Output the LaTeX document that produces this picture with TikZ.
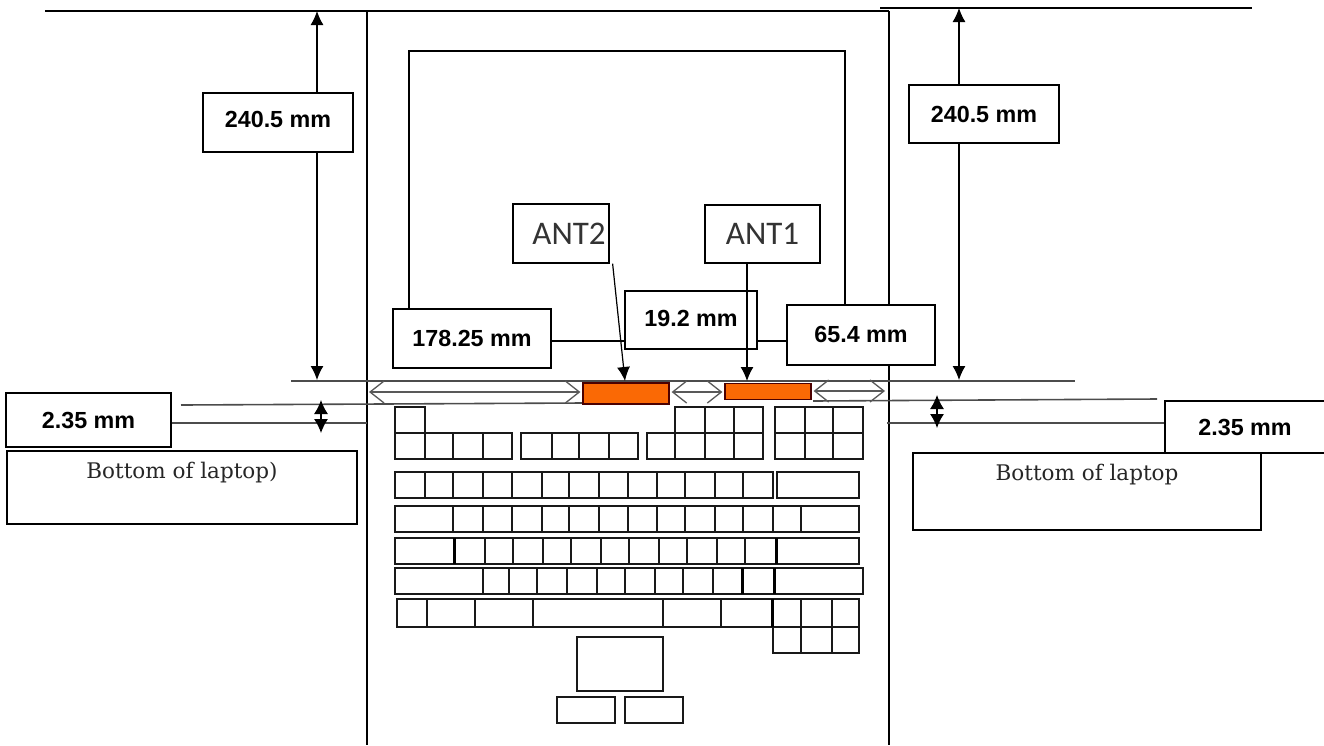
\documentclass[tikz,border=0pt]{standalone}
\usepackage{fontspec}
\usetikzlibrary{arrows.meta,positioning}
\newfontfamily\dimfont{Liberation Sans}
\newfontfamily\antfont{Carlito}
\newfontfamily\laptopfont{DejaVu Serif}
\definecolor{antorange}{RGB}{250,105,5}
\tikzset{
  dimbox/.style={draw=black, fill=white, line width=1.2pt, inner sep=0pt, font=\dimfont\bfseries\fontsize{23.3}{25}\selectfont},
  antbox/.style={draw=black, fill=white, line width=1.2pt, inner sep=0pt, text=black!80, font=\antfont\fontsize{33}{36}\selectfont},
  laptopbox/.style={draw=black, fill=white, line width=1.2pt, inner sep=0pt},
  laptoptext/.style={inner sep=0pt, text=black!85, font=\laptopfont\fontsize{21.5}{24}\selectfont},
  antpatch/.style={draw=black!70!red, fill=antorange, line width=1.2pt, inner sep=0pt},
  key/.style={draw=black!90, line width=1.4pt},
  thickkey/.style={draw=black, line width=3pt},
  frameline/.style={draw=black, line width=1.3pt},
  dimline/.style={draw=black!70, line width=1.6pt},
  gaparrow/.style={draw=black!65, line width=1.3pt, shorten <=2pt, shorten >=2pt, {Straight Barb[length=14pt,width=22pt]}-{Straight Barb[length=14pt,width=22pt]}},
  dimarrow/.style={draw=black, line width=1.2pt, -{Latex[length=14pt,width=13pt]}},
  tinyarrow/.style={draw=black, line width=1.2pt, {Latex[length=14pt,width=14pt]}-{Latex[length=14pt,width=14pt]}}
}
\newcommand\keyrow[5]{
  \draw[key] (#3,#1) rectangle (#4,#2);
  \foreach \dx in {#5} \draw[key] (\dx,#1) -- (\dx,#2);
}
\begin{document}
\begin{tikzpicture}[x=1pt,y=-1pt]
  \useasboundingbox (0,0) rectangle (1324,745);

  \draw[frameline] (45,11) -- (889,11);
  \draw[frameline] (880,8) -- (1252,8);
  \draw[frameline] (367,11) -- (367,745);
  \draw[frameline] (889,11) -- (889,745);
  \draw[frameline] (409,310) -- (409,51) -- (845,51) -- (845,306);

  \coordinate (topl) at (317,11);
  \coordinate (topr) at (959,8);
  \coordinate (basel) at (317,380);
  \coordinate (baser) at (959,380);
  \coordinate (lowl) at (367,423);
  \coordinate (lowr) at (887,423);
  \coordinate (sideline) at (0,341);
  \coordinate (antleft) at (625,381);
  \coordinate (antright) at (747,381);

  \draw[dimline] (291,381) -- (1075,381);
  \draw[dimline] (181,405) -- (583,403);
  \draw[dimline] (813,401) -- (1157,399);

  \keyrow{407}{433}{395}{425}{}
  \keyrow{433}{459}{395}{512}{425,453,483}
  \keyrow{433}{459}{521}{638}{552,579,609}
  \keyrow{433}{459}{647}{763}{675,705,734}
  \keyrow{407}{433}{675}{763}{705,734}
  \keyrow{407}{459}{775}{863}{805,833}
  \draw[key] (775,433) -- (863,433);
  \keyrow{472}{498}{395}{773}{425,453,483,512,542,569,599,628,657,685,715,743}
  \keyrow{472}{498}{777}{859}{}
  \keyrow{506}{532}{395}{859}{453,483,512,542,569,599,628,657,685,715,743,773,801}
  \keyrow{538}{564}{395}{859}{485,513,543,571,601,629,659,687,717,745}
  \keyrow{568}{594}{395}{863}{483,509,537,567,597,625,655,683,713}
  \keyrow{599}{627}{397}{859}{427,475,533,663,721,801,832}
  \keyrow{627}{653}{773}{859}{801,832}
  \foreach \tx/\ta/\tb in {454/538/564,776/538/564,742/568/594,774/568/594,772/599/627}
    \draw[thickkey] (\tx,\ta) -- (\tx,\tb);
  \draw[key] (577,637) rectangle (663,691);
  \draw[key] (557,697) rectangle (615,723);
  \draw[key] (625,697) rectangle (683,723);

  \node[antpatch, minimum width=86pt, minimum height=21pt] (orangel) at (626,393.5) {};
  \node[antpatch, minimum width=86pt, minimum height=16pt] (oranger) at (768,391.5) {};
  \coordinate (edgel) at (367,392);
  \coordinate (edger) at (887,391);
  \draw[gaparrow] (edgel) -- (orangel.west |- edgel);
  \draw[gaparrow] (orangel.east |- edgel) -- (oranger.west |- edgel);
  \draw[gaparrow] (oranger.east |- edger) -- (edger);

  \node[dimbox, minimum width=150pt, minimum height=59pt] (heightl) at (278,122.5) {\raisebox{6pt}{240.5 mm}};
  \node[dimbox, minimum width=150pt, minimum height=58pt] (heightr) at (984,114) {240.5 mm};
  \node[antbox, minimum width=96pt, minimum height=59pt] (ant2) at (561,233.5) {\hspace*{16pt}ANT2};
  \node[antbox, minimum width=115pt, minimum height=58pt] (ant1) at (762.5,234) {ANT1};
  \node[dimbox, minimum width=158pt, minimum height=59pt] (lenl) at (472,338.5) {178.25 mm};
  \node[dimbox, minimum width=132pt, minimum height=58pt] (lenm) at (691,320) {\raisebox{3pt}{19.2 mm}};
  \node[dimbox, minimum width=148pt, minimum height=60pt] (lenr) at (861,335) {\raisebox{2pt}{65.4 mm}};
  \node[dimbox, minimum width=165pt, minimum height=54pt] (gapl) at (88.5,420) {2.35 mm};
  \node[dimbox, minimum width=160pt, minimum height=52pt] (gapr) at (1245,427) {2.35 mm};
  \node[laptopbox, minimum width=350pt, minimum height=73pt] (botl) at (182,487.5) {};
  \node[laptopbox, minimum width=348pt, minimum height=77pt] (botr) at (1087,491.5) {};
  \node[laptoptext, below=12pt of botl.north] {Bottom of laptop)};
  \node[laptoptext, below=12pt of botr.north] {Bottom of laptop};

  \draw[dimarrow] (heightl.north -| topl) -- (topl);
  \draw[dimarrow] (heightl.south -| topl) -- (basel);
  \draw[dimarrow] (heightr.north -| topr) -- (topr);
  \draw[dimarrow] (heightr.south -| topr) -- (baser);
  \draw[dimarrow] (ant2.south east) ++(3,0) -- (antleft);
  \draw[dimarrow] (ant1.south -| antright) -- (antright);
  \draw[frameline] (lenl.east |- sideline) -- (lenm.west |- sideline);
  \draw[frameline] (lenm.east |- sideline) -- (lenr.west |- sideline);
  \draw[dimline] (gapl.east |- lowl) -- (lowl);
  \draw[dimline] (lowr) -- (gapr.west |- lowr);
  \draw[tinyarrow] (321,400) -- (321,433);
  \draw[tinyarrow] (937,395) -- (937,428);
\end{tikzpicture}
\end{document}
